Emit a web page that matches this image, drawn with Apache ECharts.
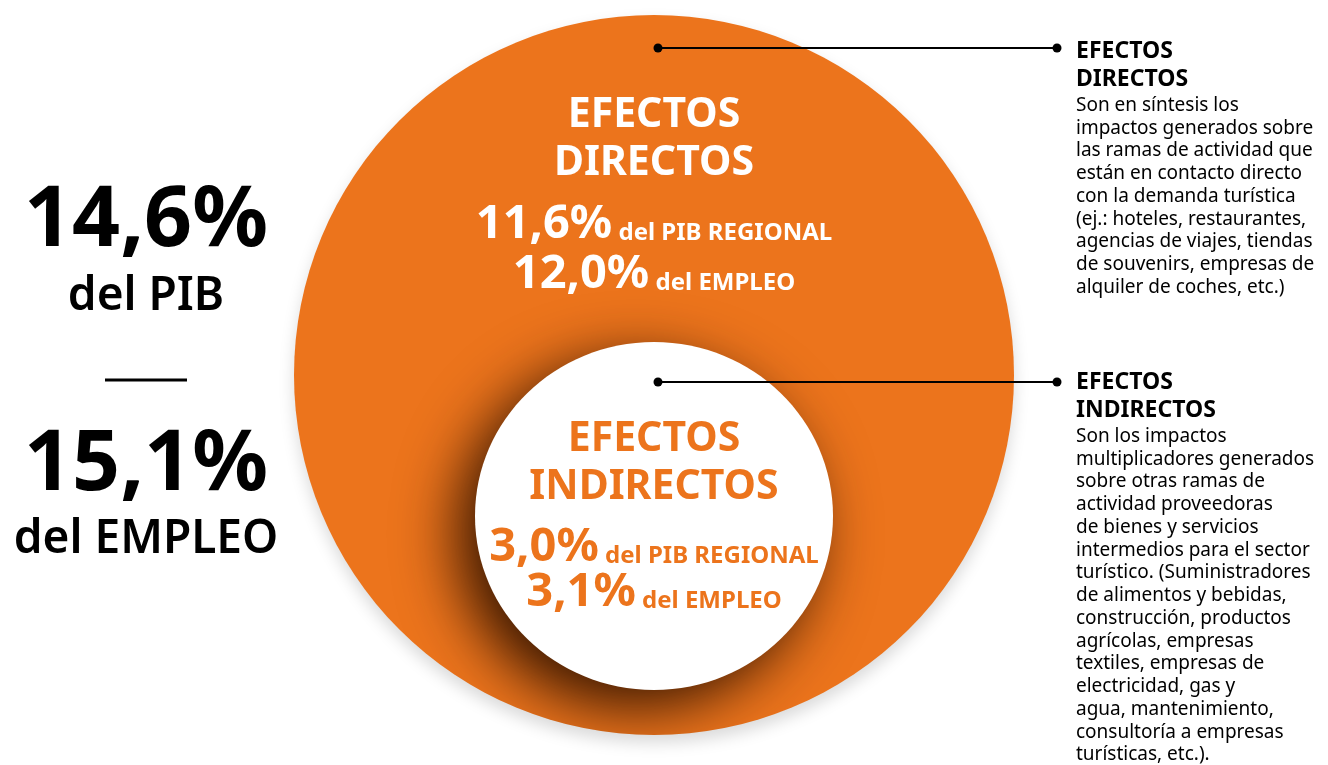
<!DOCTYPE html>
<html>
<head>
<meta charset="utf-8">
<script src="https://cdn.jsdelivr.net/npm/echarts@6/dist/echarts.min.js"></script>
<style>
  html, body { margin: 0; padding: 0; background: #fff; }
  #main { width: 1328px; height: 765px; }
</style>
</head>
<body>
<div id="main"></div>
<script>
// totals shown on the left
const totalValues = ["14,6%", "15,1%"];
const totalLabels = ["del PIB", "del EMPLEO"];

// the two effect circles
const effectNames = ["EFECTOS\nDIRECTOS", "EFECTOS\nINDIRECTOS"];
const pibValues = ["11,6%", "3,0%"];
const empleoValues = ["12,0%", "3,1%"];
const pibLabel = "del PIB REGIONAL";
const empleoLabel = "del EMPLEO";

// notes on the right
const noteTitles = ["EFECTOS\nDIRECTOS", "EFECTOS\nINDIRECTOS"];
const noteLines = [
  [
    "Son en síntesis los",
    "impactos generados sobre",
    "las ramas de actividad que",
    "están en contacto directo",
    "con la demanda turística",
    "(ej.: hoteles, restaurantes,",
    "agencias de viajes, tiendas",
    "de souvenirs, empresas de",
    "alquiler de coches, etc.)"
  ],
  [
    "Son los impactos",
    "multiplicadores generados",
    "sobre otras ramas de",
    "actividad proveedoras",
    "de bienes y servicios",
    "intermedios para el sector",
    "turístico. (Suministradores",
    "de alimentos y bebidas,",
    "construcción, productos",
    "agrícolas, empresas",
    "textiles, empresas de",
    "electricidad, gas y",
    "agua, mantenimiento,",
    "consultoría a empresas",
    "turísticas, etc.)."
  ]
];

const ORANGE = "#ec741c";
const FONT = '"Noto Sans", sans-serif';
const OUTER = { cx: 654, cy: 375, r: 360 };
const INNER = { cx: 654, cy: 516, rx: 179, ry: 174 };
const circleText = [
  { titleY: 139, pibY: 222, empY: 272, color: "#fff" },
  { titleY: 463, pibY: 545, empY: 590, color: ORANGE }
];
const pointerY = [48, 382];

const chart = echarts.init(document.getElementById("main"), null, { renderer: "canvas" });

function richLine(value, label, y, color) {
  return {
    type: "text",
    x: 654,
    y: y,
    style: {
      text: "{v|" + value + "}{u| " + label + "}",
      align: "center",
      verticalAlign: "middle",
      textAlign: "center",
      textVerticalAlign: "middle",
      rich: {
        v: { fontSize: 47, fontWeight: "bold", fontFamily: FONT, fill: color, verticalAlign: "bottom", lineHeight: 52 },
        u: { fontSize: 24, fontWeight: "bold", fontFamily: FONT, fill: color, verticalAlign: "bottom", lineHeight: 52, padding: [0, 0, 3, 0] }
      }
    }
  };
}

function renderEffect(params, api) {
  const i = params.dataIndex;
  const t = circleText[i];
  const children = [];
  if (i === 0) {
    children.push({
      type: "circle",
      shape: { cx: OUTER.cx, cy: OUTER.cy, r: OUTER.r },
      style: { fill: ORANGE, shadowBlur: 16, shadowColor: "rgba(0,0,0,0.15)", shadowOffsetY: 8 }
    });
  } else {
    children.push({
      type: "ellipse",
      shape: { cx: INNER.cx, cy: INNER.cy, rx: INNER.rx, ry: INNER.ry },
      style: {
        fill: "#fff",
        shadowBlur: 60,
        shadowColor: "rgba(55,22,0,1)",
        shadowOffsetX: -18,
        shadowOffsetY: 18
      },
      clipPath: { type: "circle", shape: { cx: OUTER.cx, cy: OUTER.cy, r: OUTER.r } }
    });
  }
  children.push({
    type: "text",
    x: 654,
    y: t.titleY,
    style: {
      text: effectNames[i],
      fill: t.color,
      font: "bold 41px " + FONT,
      align: "center",
      verticalAlign: "middle",
      textAlign: "center",
      textVerticalAlign: "middle",
      lineHeight: 48
    }
  });
  children.push(richLine(pibValues[i], pibLabel, t.pibY, t.color));
  children.push(richLine(empleoValues[i], empleoLabel, t.empY, t.color));
  return { type: "group", children: children };
}

const graphics = [];
// left totals
const totalY = [[222, 297], [466, 540]];
totalValues.forEach(function (v, i) {
  graphics.push({
    type: "text", x: 146, y: totalY[i][0],
    style: { text: v, font: "bold 84px " + FONT, fill: "#000", align: "center", verticalAlign: "middle", textAlign: "center", textVerticalAlign: "middle" }
  });
  graphics.push({
    type: "text", x: 146, y: totalY[i][1],
    style: { text: totalLabels[i], font: "600 46px " + FONT, fill: "#000", align: "center", verticalAlign: "middle", textAlign: "center", textVerticalAlign: "middle" }
  });
});
graphics.push({
  type: "line",
  shape: { x1: 105, y1: 380, x2: 187, y2: 380 },
  style: { stroke: "#000", lineWidth: 3 }
});

// pointers and notes on the right
const noteTop = [37, 368];
noteTitles.forEach(function (title, i) {
  const y = pointerY[i];
  graphics.push({ type: "line", shape: { x1: 658, y1: y, x2: 1057, y2: y }, style: { stroke: "#000", lineWidth: 2 }, z: 10 });
  graphics.push({ type: "circle", shape: { cx: 658, cy: y, r: 4.5 }, style: { fill: "#000" }, z: 10 });
  graphics.push({ type: "circle", shape: { cx: 1057, cy: y, r: 4.5 }, style: { fill: "#000" }, z: 10 });
  graphics.push({
    type: "text", x: 1076, y: noteTop[i],
    style: { text: title, font: "bold 23px " + FONT, fill: "#000", lineHeight: 28, align: "left", verticalAlign: "top", textAlign: "left", textVerticalAlign: "top" }
  });
  graphics.push({
    type: "text", x: 1076, y: noteTop[i] + 57,
    style: { text: noteLines[i].join("\n"), font: "19px " + FONT, fill: "#000", lineHeight: 22.75, align: "left", verticalAlign: "top", textAlign: "left", textVerticalAlign: "top" }
  });
});

chart.setOption({
  backgroundColor: "#fff",
  animation: false,
  series: [
    {
      type: "custom",
      coordinateSystem: "none",
      renderItem: renderEffect,
      data: effectNames.map(function (name, i) { return { name: name, value: i }; }),
      silent: true
    }
  ],
  graphic: graphics
});
</script>
</body>
</html>
